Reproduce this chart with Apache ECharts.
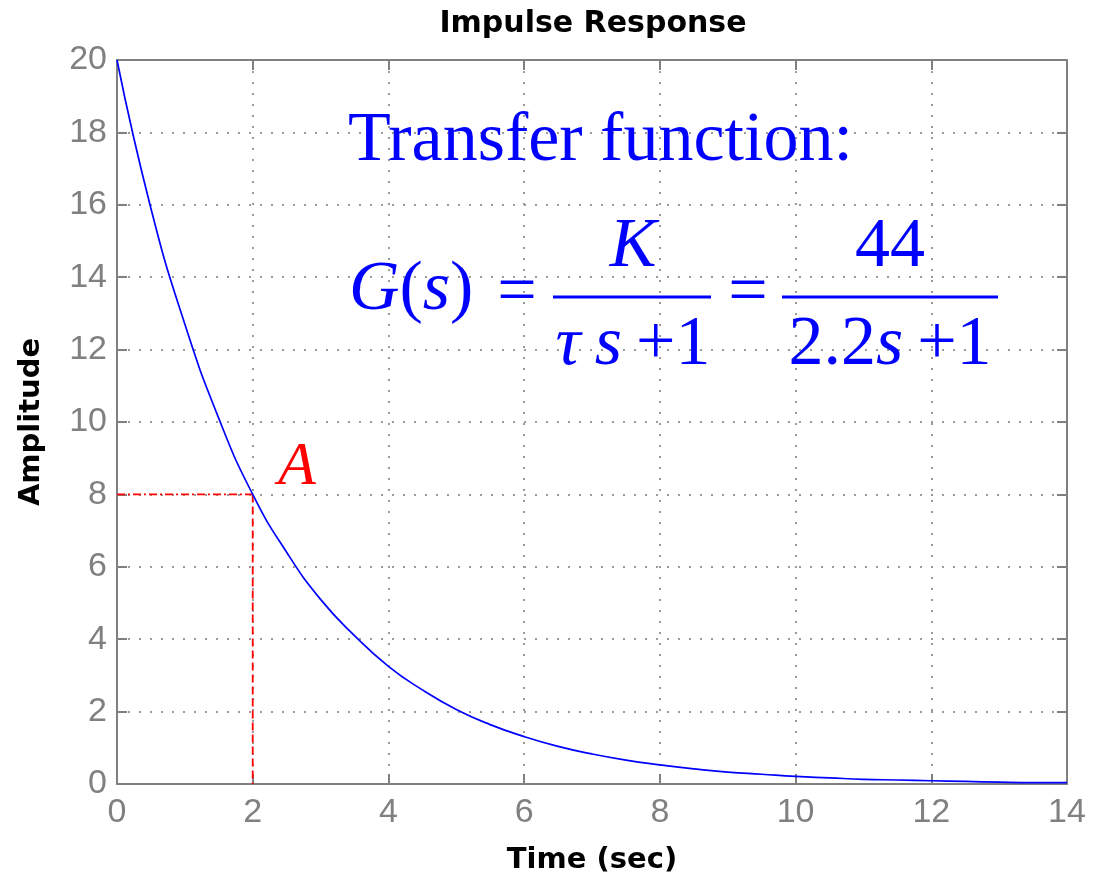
<!DOCTYPE html>
<html>
<head>
<meta charset="utf-8">
<script src="https://cdn.jsdelivr.net/npm/echarts@6/dist/echarts.min.js"></script>
<style>
html,body{margin:0;padding:0;background:#fff;}
#main{width:1096px;height:879px;}
</style>
</head>
<body>
<div id="main"></div>
<script>
// Data
var timeSec = [0,0.5,1,1.5,2,2.5,3,3.5,4,4.5,5,5.5,6,6.5,7,7.5,8,8.5,9,9.5,10,10.5,11,11.5,12,12.5,13,13.5,14];
var amplitude = [20,15.9,12.7,10.1,8.0,6.4,5.1,4.1,3.25,2.6,2.06,1.64,1.31,1.04,0.83,0.66,0.53,0.42,0.33,0.27,0.21,0.17,0.13,0.11,0.09,0.07,0.05,0.04,0.04];
var pointA = [2, 8];
var xTicks = [0,2,4,6,8,10,12,14];
var yTicks = [0,2,4,6,8,10,12,14,16,18,20];

var curve = timeSec.map(function(t,i){return [t, amplitude[i]];});
var hLine = [[0, pointA[1]], [pointA[0], pointA[1]]];
var vLine = [[pointA[0], pointA[1]], [pointA[0], 0]];

var axisColor = '#808080';
var gridLine = {show:true, lineStyle:{color:'#9a9a9a', width:2, type:[2,9]}};
var labelStyle = {color:'#808080', fontSize:34, fontFamily:'Liberation Sans'};
var nameStyle = {color:'#000', fontSize:29, fontWeight:'bold', fontFamily:'DejaVu Sans'};

var chart = echarts.init(document.getElementById('main'));
var blue = '#0000ff';
var serif = 'Liberation Serif';
var eqSize = 70;

function txt(x, y, text, opts){
  opts = opts || {};
  return {
    type:'text', x:x, y:y, z:100,
    style:{
      text:text, fill: opts.fill || blue,
      font: (opts.italic ? 'italic ' : '') + (opts.size || eqSize) + 'px "' + serif + '"',
      align: opts.align || 'left', verticalAlign:'middle',
      rich: {i:{fontStyle:'italic', fontSize: opts.size || eqSize, fontFamily: serif, fill: opts.fill || blue}}
    }
  };
}

chart.setOption({
  animation:false,
  backgroundColor:'#fff',
  title:{
    text:'Impulse Response', left:588, textAlign:'center', top:4,
    textStyle:{color:'#000', fontSize:30, fontWeight:'bold', fontFamily:'DejaVu Sans'}
  },
  grid:{left:117, right:29, top:60, bottom:95, containLabel:false, outerBoundsMode:'none'},
  xAxis:[{
    type:'value', min:0, max:14, interval:2,
    name:'Time (sec)', nameLocation:'middle', nameGap:62, nameTextStyle:nameStyle,
    axisLine:{show:true, onZero:false, lineStyle:{color:axisColor, width:2}},
    axisTick:{show:true, inside:true, length:10, lineStyle:{color:axisColor, width:2}},
    axisLabel:Object.assign({margin:12, formatter:function(v){return xTicks.indexOf(v)>=0? String(v):'';}}, labelStyle),
    splitLine:gridLine
  },{
    type:'value', min:0, max:14, interval:2, position:'top',
    axisLine:{show:true, onZero:false, lineStyle:{color:axisColor, width:2}},
    axisTick:{show:true, inside:true, length:10, lineStyle:{color:axisColor, width:2}},
    axisLabel:{show:false}, splitLine:{show:false}
  }],
  yAxis:[{
    type:'value', min:0, max:20, interval:2,
    name:'Amplitude', nameLocation:'middle', nameGap:71, nameRotate:90, nameTextStyle:nameStyle,
    axisLine:{show:true, onZero:false, lineStyle:{color:axisColor, width:2}},
    axisTick:{show:true, inside:true, length:10, lineStyle:{color:axisColor, width:2}},
    axisLabel:Object.assign({margin:10, formatter:function(v){return yTicks.indexOf(v)>=0? String(v):'';}}, labelStyle),
    splitLine:gridLine
  },{
    type:'value', min:0, max:20, interval:2, position:'right',
    axisLine:{show:true, onZero:false, lineStyle:{color:axisColor, width:2}},
    axisTick:{show:true, inside:true, length:10, lineStyle:{color:axisColor, width:2}},
    axisLabel:{show:false}, splitLine:{show:false}
  }],
  series:[{
    type:'line', data:curve, smooth:true, showSymbol:false,
    lineStyle:{color:blue, width:1.7}, z:5
  },{
    type:'line', data:hLine, showSymbol:false,
    lineStyle:{color:'#ff0000', width:1.8, type:[8,3,2,3]}, z:4
  },{
    type:'line', data:vLine, showSymbol:false,
    lineStyle:{color:'#ff0000', width:1.8, type:[8,4]}, z:4
  }],
  graphic:[
    txt(297, 468, 'A', {fill:'#ff0000', italic:true, size:62, align:'center'}),
    txt(348, 142, 'Transfer function:', {size:70}),
    txt(349, 291, '{i|G}({i|s})', {}),
    txt(517, 295, '=', {align:'center'}),
    {type:'rect', shape:{x:553, y:295.5, width:158, height:3}, style:{fill:blue}, z:100},
    txt(633, 248, 'K', {italic:true, align:'center'}),
    txt(633, 346, '{i|τ}\u2009{i|s}\u2009+1', {align:'center'}),
    txt(748, 295, '=', {align:'center'}),
    {type:'rect', shape:{x:782, y:295.5, width:216, height:3}, style:{fill:blue}, z:100},
    txt(890, 248, '44', {align:'center'}),
    txt(890, 346, '2.2{i|s}\u2009+1', {align:'center'})
  ]
});
</script>
</body>
</html>
